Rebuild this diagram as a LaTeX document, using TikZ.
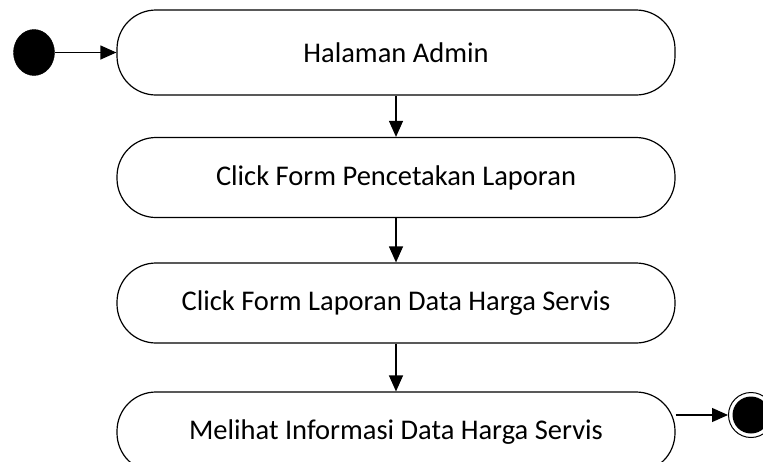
\documentclass[tikz,border=0pt]{standalone}
\usepackage{fontspec}
\setmainfont{Carlito}
\usetikzlibrary{arrows.meta,shapes.geometric}
\begin{document}
\begin{tikzpicture}[x=1pt,y=-1pt,
  act/.style={draw, line width=1.2pt, rounded corners=39pt,
    minimum width=558pt, minimum height=80pt, inner sep=0pt,
    font=\fontsize{28.5}{33}\selectfont},
  flow/.style={-{Triangle[length=16pt,width=14pt]}, line width=1.2pt},
]
\useasboundingbox (0,0) rectangle (763,461);
\clip (0,0) rectangle (763,461);

% activities
\node[act, minimum height=85pt] (a1) at (396,52.5) {Halaman Admin};
\node[act] (a2) at (396,177.5) {Click Form Pencetakan Laporan};
\node[act] (a3) at (396,303) {Click Form Laporan Data Harga Servis};
\node[act] (a4) at (396,432) {Melihat Informasi Data Harga Servis};

% initial and final states
\node[ellipse, draw, fill=black, minimum width=41pt, minimum height=46pt, inner sep=0pt] (ini) at (34,52.5) {};
\node[circle, draw, line width=1pt, minimum size=45pt, inner sep=0pt] (fin) at (751,415) {};
\fill (fin.center) circle (18.5pt);

% transitions
\draw[flow] (ini) -- (a1);
\draw[flow] (a1) -- (a2);
\draw[flow] (a2) -- (a3);
\draw[flow] (a3) -- (a4);
\draw[flow] (a4.east |- fin.west) -- (fin.west);
\end{tikzpicture}
\end{document}
